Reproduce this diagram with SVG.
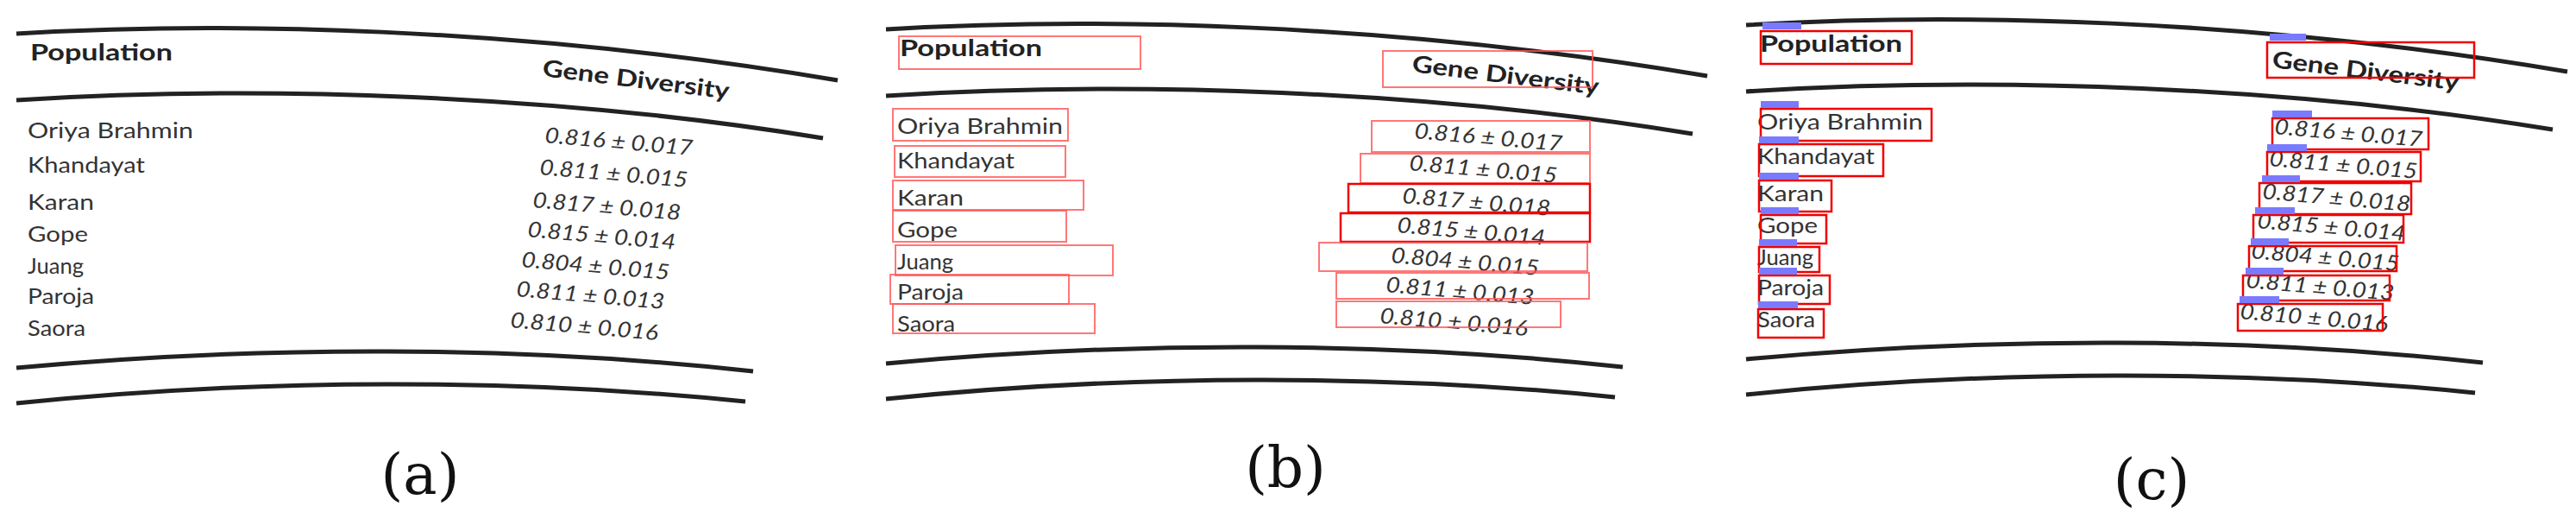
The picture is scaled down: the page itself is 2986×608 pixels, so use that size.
<svg xmlns="http://www.w3.org/2000/svg" xmlns:xlink="http://www.w3.org/1999/xlink" width="2986" height="608" viewBox="0 0 2986 608">
<style>
.ln{fill:none;stroke:#222;stroke-width:5}
.hd{font-family:Lato,"Open Sans",sans-serif;font-weight:bold;font-size:27px;fill:#222}
.nm{font-family:Lato,"Open Sans",sans-serif;font-size:25px;fill:#333}
.vl{font-family:Lato,"Open Sans",sans-serif;font-style:italic;font-size:25px;fill:#333}
.lb{font-family:"DejaVu Serif",serif;font-size:66px;fill:#111;text-anchor:middle}
.rb{fill:none;stroke:#e00;stroke-width:2.5}
.rb2{fill:none;stroke:#f55;stroke-width:2;opacity:0.8}
.tg{fill:#7a7aff}
</style>
<defs>
<g id="panel">
<path class="ln" d="M19,39 C250,25 600,30 971,93"/>
<path class="ln" d="M19,116 C300,98 650,110 954,160"/>
<path class="ln" d="M19,426 C300,400 600,400 873,430"/>
<path class="ln" d="M19,467 C300,438 600,438 864,465"/>
<text class="hd" x="35" y="70" textLength="165" lengthAdjust="spacingAndGlyphs">Population</text>
<text class="hd" x="628" y="88" transform="rotate(7 628 88)" textLength="218" lengthAdjust="spacingAndGlyphs">Gene Diversity</text>
<text class="nm" x="32" y="160" textLength="192" lengthAdjust="spacingAndGlyphs">Oriya Brahmin</text>
<text class="nm" x="32" y="200" textLength="136" lengthAdjust="spacingAndGlyphs">Khandayat</text>
<text class="nm" x="32" y="243" textLength="77" lengthAdjust="spacingAndGlyphs">Karan</text>
<text class="nm" x="32" y="280" textLength="70" lengthAdjust="spacingAndGlyphs">Gope</text>
<text class="nm" x="32" y="317" textLength="65" lengthAdjust="spacingAndGlyphs">Juang</text>
<text class="nm" x="32" y="352" textLength="77" lengthAdjust="spacingAndGlyphs">Paroja</text>
<text class="nm" x="32" y="389" textLength="67" lengthAdjust="spacingAndGlyphs">Saora</text>
<text class="vl" x="631" y="165" transform="rotate(5 631 165)" textLength="172" lengthAdjust="spacingAndGlyphs">0.816 ± 0.017</text>
<text class="vl" x="625" y="202" transform="rotate(5 625 202)" textLength="172" lengthAdjust="spacingAndGlyphs">0.811 ± 0.015</text>
<text class="vl" x="617" y="240" transform="rotate(5 617 240)" textLength="172" lengthAdjust="spacingAndGlyphs">0.817 ± 0.018</text>
<text class="vl" x="611" y="274" transform="rotate(5 611 274)" textLength="172" lengthAdjust="spacingAndGlyphs">0.815 ± 0.014</text>
<text class="vl" x="604" y="309" transform="rotate(5 604 309)" textLength="172" lengthAdjust="spacingAndGlyphs">0.804 ± 0.015</text>
<text class="vl" x="598" y="343" transform="rotate(5 598 343)" textLength="172" lengthAdjust="spacingAndGlyphs">0.811 ± 0.013</text>
<text class="vl" x="591" y="379" transform="rotate(5 591 379)" textLength="172" lengthAdjust="spacingAndGlyphs">0.810 ± 0.016</text>
</g>
</defs>
<g id="panel-a">
<use xlink:href="#panel" href="#panel"/>
<text class="lb" x="487" y="572">(a)</text>
</g>
<g id="panel-b">
<use xlink:href="#panel" href="#panel" transform="translate(1008,-5)"/>
<rect class="rb2" x="1042" y="42" width="280" height="38"/>
<rect class="rb2" x="1603" y="59" width="243" height="42"/>
<rect class="rb2" x="1035" y="126" width="203" height="37"/>
<rect class="rb2" x="1037" y="169" width="198" height="36"/>
<rect class="rb2" x="1035" y="209" width="221" height="34"/>
<rect class="rb2" x="1035" y="244" width="201" height="36"/>
<rect class="rb2" x="1038" y="284" width="252" height="35"/>
<rect class="rb2" x="1032" y="318" width="207" height="34"/>
<rect class="rb2" x="1035" y="352" width="234" height="34"/>
<rect class="rb2" x="1590" y="140" width="253" height="36"/>
<rect class="rb2" x="1577" y="178" width="266" height="34"/>
<rect class="rb" x="1563" y="213" width="280" height="33"/>
<rect class="rb" x="1554" y="247" width="289" height="33"/>
<rect class="rb2" x="1529" y="281" width="311" height="33"/>
<rect class="rb2" x="1549" y="316" width="293" height="30"/>
<rect class="rb2" x="1549" y="349" width="260" height="30"/>
<text class="lb" x="1490" y="564">(b)</text>
</g>
<g id="panel-c">
<use xlink:href="#panel" href="#panel" transform="translate(2005,-10)"/>
<rect class="rb" x="2041" y="36" width="175" height="38"/>
<rect class="rb" x="2628" y="49" width="240" height="41"/>
<rect class="rb" x="2041" y="126" width="198" height="37"/>
<rect class="rb" x="2039" y="167" width="144" height="37"/>
<rect class="rb" x="2039" y="209" width="84" height="36"/>
<rect class="rb" x="2041" y="249" width="76" height="33"/>
<rect class="rb" x="2039" y="286" width="70" height="29"/>
<rect class="rb" x="2039" y="319" width="82" height="33"/>
<rect class="rb" x="2038" y="358" width="76" height="33"/>
<rect class="rb" x="2634" y="137" width="181" height="36"/>
<rect class="rb" x="2628" y="176" width="178" height="34"/>
<rect class="rb" x="2619" y="212" width="176" height="36"/>
<rect class="rb" x="2612" y="249" width="174" height="32"/>
<rect class="rb" x="2607" y="285" width="171" height="29"/>
<rect class="rb" x="2600" y="319" width="170" height="29"/>
<rect class="rb" x="2594" y="352" width="168" height="31"/>
<rect class="tg" x="2043" y="26" width="45" height="8"/>
<rect class="tg" x="2631" y="39" width="42" height="8"/>
<rect class="tg" x="2041" y="117" width="44" height="8"/>
<rect class="tg" x="2039" y="158" width="46" height="8"/>
<rect class="tg" x="2039" y="200" width="46" height="8"/>
<rect class="tg" x="2041" y="240" width="44" height="8"/>
<rect class="tg" x="2039" y="277" width="44" height="8"/>
<rect class="tg" x="2039" y="310" width="44" height="8"/>
<rect class="tg" x="2038" y="349" width="46" height="8"/>
<rect class="tg" x="2634" y="128" width="46" height="8"/>
<rect class="tg" x="2628" y="167" width="46" height="8"/>
<rect class="tg" x="2622" y="203" width="44" height="8"/>
<rect class="tg" x="2614" y="240" width="46" height="8"/>
<rect class="tg" x="2609" y="276" width="44" height="8"/>
<rect class="tg" x="2603" y="310" width="44" height="8"/>
<rect class="tg" x="2596" y="343" width="46" height="8"/>
<text class="lb" x="2494" y="578">(c)</text>
</g>
</svg>
